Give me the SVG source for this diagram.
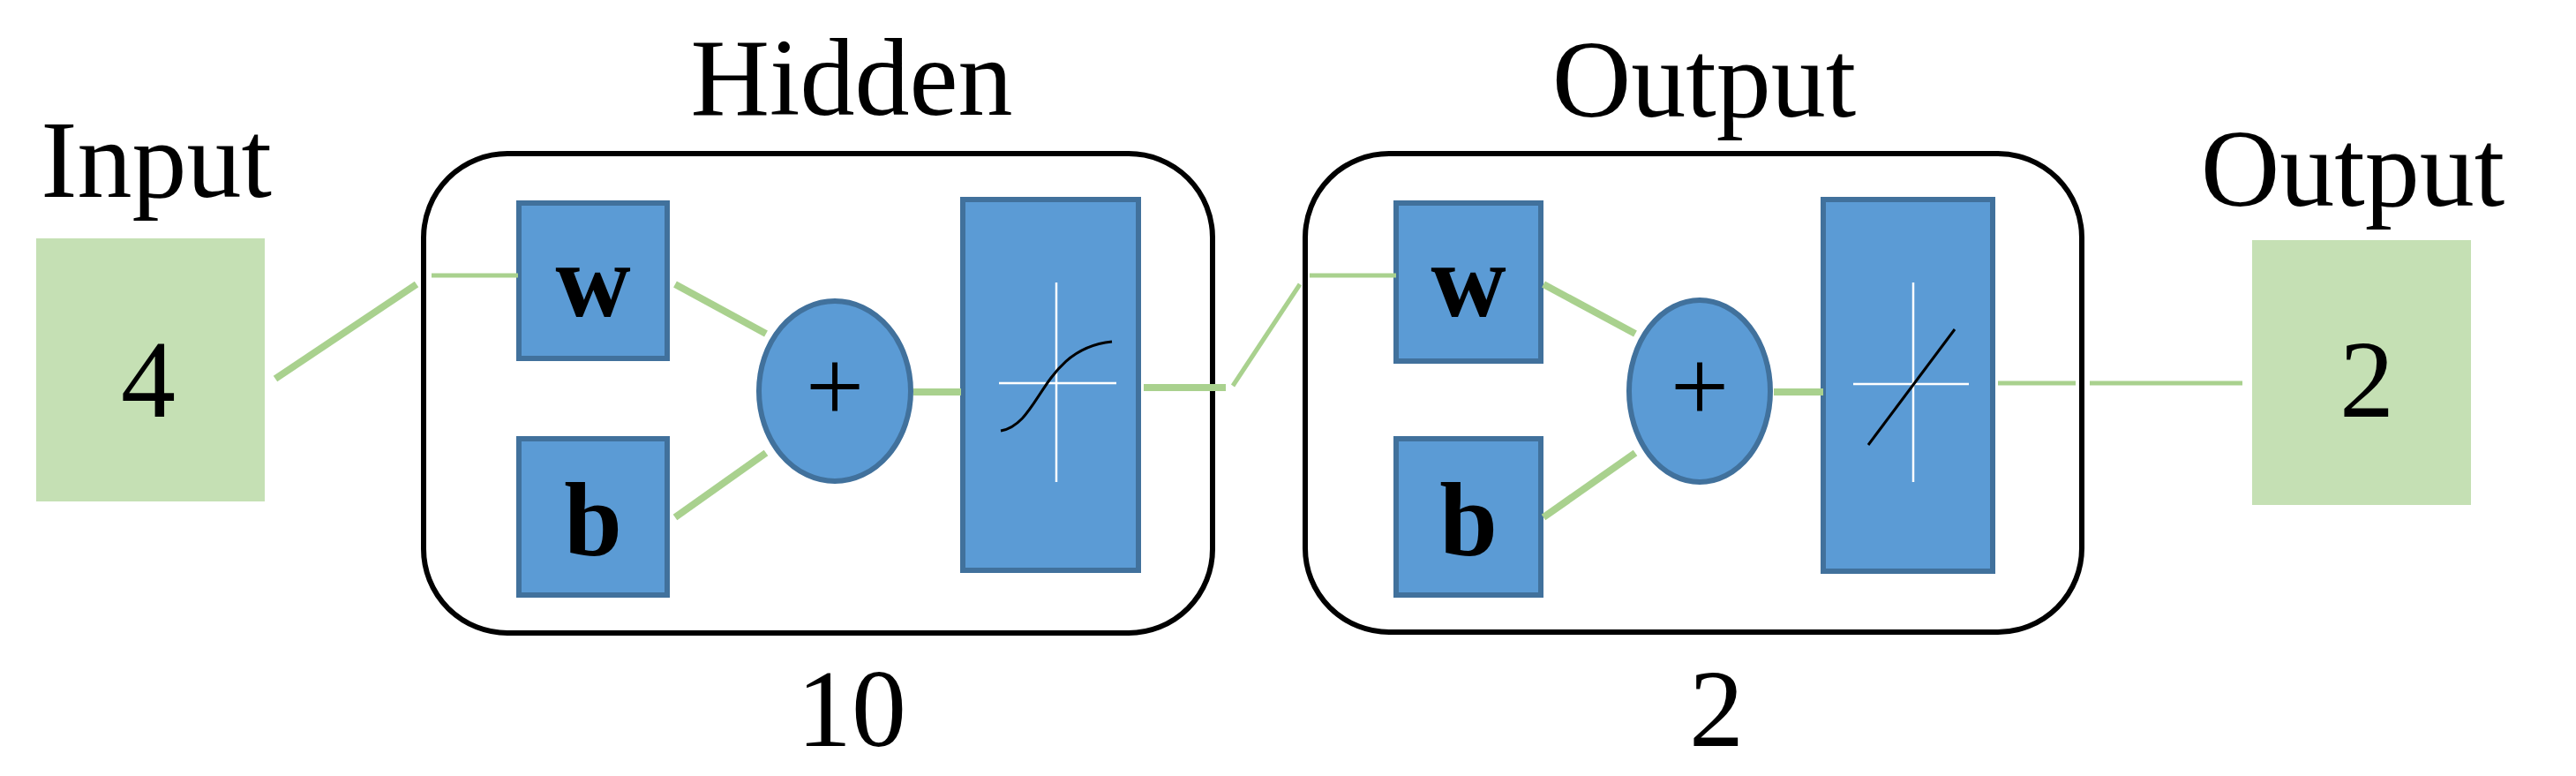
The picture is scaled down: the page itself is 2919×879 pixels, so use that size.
<svg xmlns="http://www.w3.org/2000/svg" width="2919" height="879" viewBox="0 0 2919 879">
<style>
.t{font-family:"Liberation Serif",serif;font-size:124px;fill:#000;text-anchor:middle}
.b{font-family:"Liberation Serif",serif;font-size:118px;font-weight:bold;fill:#000;text-anchor:middle}
.io{fill:#c5e0b4}
.blk{fill:#5b9bd5;stroke:#41719c;stroke-width:6}
.frame{fill:none;stroke:#000;stroke-width:6}
.c{stroke:#a9d18e;stroke-width:8;fill:none}
.c2{stroke:#a9d18e;stroke-width:5;fill:none}
.x{stroke:#fff;stroke-width:2.5}
</style>
<rect width="2919" height="879" fill="#fff"/>
<g id="input"><rect class="io" x="41" y="270" width="259" height="298"/><text class="t" x="177" y="223">Input</text><text class="t" x="168" y="472">4</text></g>
<g id="hidden">
<rect class="frame" x="480" y="174" width="894" height="543" rx="95"/>
<text class="t" x="965" y="130">Hidden</text><text class="t" x="965" y="845">10</text>
</g>
<g id="hw"><rect class="blk" x="588" y="230" width="168" height="176"/><text class="b" x="672" y="358">w</text></g>
<g id="hb"><rect class="blk" x="588" y="497" width="168" height="177"/><text class="b" x="672" y="628">b</text></g>
<g id="hsum"><ellipse class="blk" cx="946" cy="443" rx="86" ry="102"/><text class="b" x="946" y="478" style="font-weight:normal">+</text></g>
<g id="htf"><rect class="blk" x="1091" y="226" width="199" height="420"/><line class="x" x1="1132" y1="434" x2="1265" y2="434"/><line class="x" x1="1197" y1="320" x2="1197" y2="546"/><path d="M1134 488 C1180 480 1180 395 1260 387" fill="none" stroke="#000" stroke-width="3"/></g>
<g id="output">
<rect class="frame" x="1479" y="174" width="880" height="542" rx="95"/>
<text class="t" x="1931" y="132">Output</text><text class="t" x="1945" y="845">2</text>
</g>
<g id="ow"><rect class="blk" x="1582" y="230" width="164" height="179"/><text class="b" x="1664" y="358">w</text></g>
<g id="ob"><rect class="blk" x="1582" y="497" width="164" height="177"/><text class="b" x="1664" y="628">b</text></g>
<g id="osum"><ellipse class="blk" cx="1926" cy="443" rx="80" ry="103"/><text class="b" x="1926" y="478" style="font-weight:normal">+</text></g>
<g id="otf"><rect class="blk" x="2066" y="226" width="192" height="421"/><line class="x" x1="2100" y1="435" x2="2231" y2="435"/><line class="x" x1="2168" y1="320" x2="2168" y2="546"/><line x1="2117" y1="504" x2="2215" y2="373" stroke="#000" stroke-width="3"/></g>
<g id="out"><rect class="io" x="2552" y="272" width="248" height="300"/><text class="t" x="2666" y="233">Output</text><text class="t" x="2682" y="472">2</text></g>
<g id="connectors">
<line class="c" x1="312" y1="429" x2="472" y2="322"/>
<line class="c2" x1="489" y1="312" x2="587" y2="312"/>
<line class="c" x1="765" y1="322" x2="868" y2="378"/>
<line class="c" x1="765" y1="586" x2="868" y2="513"/>
<line class="c" x1="1035" y1="444" x2="1089" y2="444"/>
<line class="c" x1="1296" y1="439" x2="1389" y2="439"/>
<line class="c2" x1="1397" y1="437" x2="1473" y2="322"/>
<line class="c2" x1="1484" y1="312" x2="1582" y2="312"/>
<line class="c" x1="1749" y1="322" x2="1853" y2="378"/>
<line class="c" x1="1749" y1="586" x2="1853" y2="513"/>
<line class="c" x1="2010" y1="444" x2="2066" y2="444"/>
<line class="c2" x1="2264" y1="434" x2="2352" y2="434"/>
<line class="c2" x1="2368" y1="434" x2="2541" y2="434"/>
</g>
</svg>
